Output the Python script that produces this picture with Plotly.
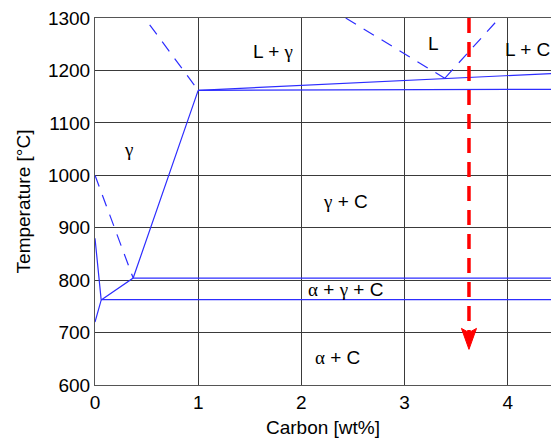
import plotly.graph_objects as go

# Solid phase boundaries (x = wt% C, y = °C)
left_v_x, left_v_y = [0.0, 0.06, 0.0], [880, 762, 720]
solvus_x, solvus_y = [0.06, 0.37, 1.0], [762, 804, 1162]
upper3_x, upper3_y = [0.37, 4.42], [804, 804]
lower3_x, lower3_y = [0.06, 4.42], [763, 763]
eut_up_x, eut_up_y = [1.0, 4.42], [1162, 1194]
eut_lo_x, eut_lo_y = [1.0, 4.42], [1162, 1164]

# Dashed (metastable) boundaries
a3_x, a3_y = [0.0, 0.37], [1000, 804]
liq_g_x, liq_g_y = [0.53, 1.0], [1287, 1162]
liq_hypo_x, liq_hypo_y = [2.43, 3.39], [1300, 1185]
liq_hyper_x, liq_hyper_y = [3.39, 3.92], [1185, 1300]

# Cooling path arrow
arrow_x = 3.625
arrow_top, arrow_tip = 1300, 668
head_half_w, head_len, head_notch = 0.073, 40, 32

# Phase labels
G = "<span style='font-family:Liberation Serif'>γ</span>"
A = "<span style='font-family:Liberation Serif'>α</span>"
lab_text = ["L + " + G, "L", "L + C", G, G + " + C", A + " + " + G + " + C", A + " + C"]
lab_x = [1.73, 3.28, 4.19, 0.32, 2.43, 2.43, 2.35]
lab_y = [1236, 1252, 1239, 1050, 950, 782, 653]

x_ticks = [0, 1, 2, 3, 4]
y_ticks = [600, 700, 800, 900, 1000, 1100, 1200, 1300]

BLUE = "rgb(45,45,255)"
fig = go.Figure()
for xs, ys in [(left_v_x, left_v_y), (solvus_x, solvus_y), (upper3_x, upper3_y),
               (lower3_x, lower3_y), (eut_up_x, eut_up_y), (eut_lo_x, eut_lo_y)]:
    fig.add_trace(go.Scatter(x=xs, y=ys, mode="lines",
                             line=dict(color=BLUE, width=1.2), hoverinfo="skip"))
for xs, ys in [(a3_x, a3_y), (liq_g_x, liq_g_y), (liq_hypo_x, liq_hypo_y), (liq_hyper_x, liq_hyper_y)]:
    fig.add_trace(go.Scatter(x=xs, y=ys, mode="lines",
                             line=dict(color=BLUE, width=1.2, dash="12px,9px"), hoverinfo="skip"))

fig.add_trace(go.Scatter(x=[arrow_x, arrow_x], y=[arrow_top, arrow_tip + head_notch], mode="lines",
                         line=dict(color="red", width=3.5, dash="15px,9px"), hoverinfo="skip"))
fig.add_trace(go.Scatter(
    x=[arrow_x - head_half_w, arrow_x, arrow_x + head_half_w, arrow_x, arrow_x - head_half_w],
    y=[arrow_tip + head_len, arrow_tip + head_notch, arrow_tip + head_len, arrow_tip, arrow_tip + head_len],
    mode="lines", fill="toself", fillcolor="red", line=dict(color="red", width=1), hoverinfo="skip"))

for t, x, y in zip(lab_text, lab_x, lab_y):
    fig.add_annotation(x=x, y=y, text=t, showarrow=False, xref="x", yref="y",
                       font=dict(family="Liberation Sans, Arial", size=19, color="black"))

fig.update_layout(
    width=551, height=440, showlegend=False,
    margin=dict(l=95, r=0, t=18, b=55),
    paper_bgcolor="white", plot_bgcolor="white",
    font=dict(family="Liberation Sans, Arial", size=19, color="black"),
)
fig.update_xaxes(range=[0, 4.42], tickvals=x_ticks, showgrid=True, gridcolor="#3a3a3a",
                 gridwidth=1, zeroline=False, showline=True, linecolor="#555",
                 linewidth=1, mirror=True, ticks="",
                 title=dict(text="Carbon [wt%]", standoff=8, font=dict(size=19)),
                 tickfont=dict(size=19))
fig.update_yaxes(range=[600, 1300], tickvals=y_ticks, showgrid=True, gridcolor="#3a3a3a",
                 gridwidth=1, zeroline=False, showline=True, linecolor="#555",
                 linewidth=1, ticks="",
                 title=dict(text="Temperature [°C]", standoff=12, font=dict(size=19)),
                 tickfont=dict(size=19))
fig.write_html("out.html")
